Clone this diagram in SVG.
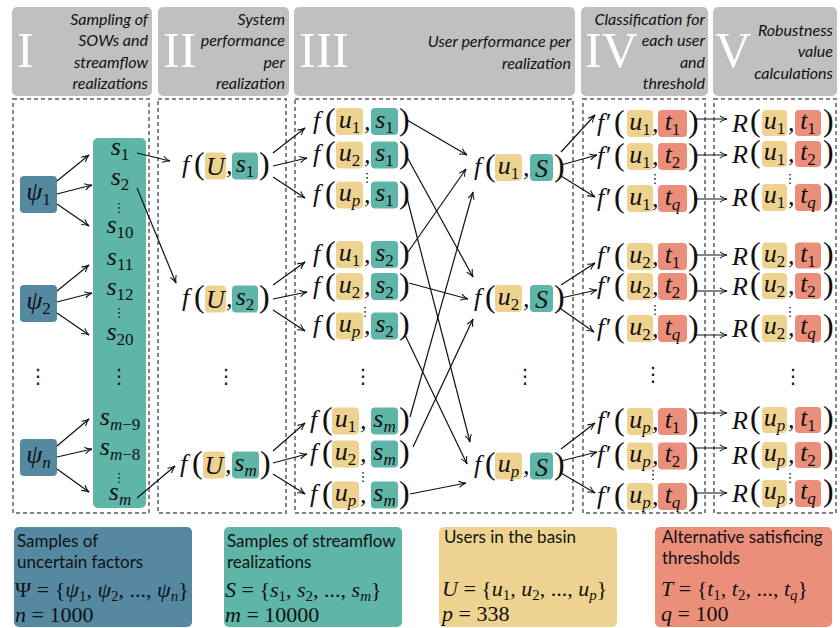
<svg xmlns="http://www.w3.org/2000/svg" width="840" height="628" viewBox="0 0 840 628">
<style>
.hdr{fill:#c0c0c0}
.num{font-family:"Liberation Serif",serif;font-size:50px;fill:#fff}
.ht{font-family:Lato,sans-serif;font-style:italic;font-size:16px;fill:#111;text-anchor:end}
.pan{fill:none;stroke:#858585;stroke-width:2;stroke-dasharray:4 3}
.m{font-family:"Liberation Serif",serif;font-style:italic;font-size:26px;fill:#111}
.mc{text-anchor:middle}
.p{font-family:"Liberation Serif",serif;font-size:32px;fill:#111}
.d{font-size:17px;font-style:normal}
.si{font-size:17px}
.Y{fill:#edd38f}.T{fill:#5fb5a8}.B{fill:#5489a1}.R{fill:#eb8f7b}
.c{fill:none;stroke:#111;stroke-width:1.2;marker-end:url(#ah)}
.vd{font-family:"DejaVu Sans",sans-serif;fill:#111;text-anchor:middle}
.vs{font-size:13px}.vb{font-size:20px}
.lg{font-family:Lato,sans-serif;font-size:17px;fill:#111}
.lm{font-family:"Liberation Serif",serif;font-size:22px;fill:#111}
.i{font-style:italic}
</style>
<defs>
<marker id="ah" viewBox="0 0 10 10" refX="9" refY="5" markerWidth="9" markerHeight="9" markerUnits="userSpaceOnUse" orient="auto">
<path d="M1,1.5 Q5,4.3 9,5 Q5,5.7 1,8.5" fill="none" stroke="#111" stroke-width="1.2"/>
</marker>
</defs>

<!-- headers -->
<g id="header-I"><rect class="hdr" x="12" y="7" width="140" height="89" rx="5"/><text class="num" x="17" y="67">I</text>
<text class="ht" x="148" y="25">Sampling of</text><text class="ht" x="148" y="46">SOWs and</text><text class="ht" x="148" y="68">streamflow</text><text class="ht" x="148" y="89">realizations</text></g>
<g id="header-II"><rect class="hdr" x="158" y="7" width="131" height="89" rx="5"/><text class="num" x="163" y="67">II</text>
<text class="ht" x="285" y="25">System</text><text class="ht" x="285" y="46">performance</text><text class="ht" x="285" y="68">per</text><text class="ht" x="285" y="89">realization</text></g>
<g id="header-III"><rect class="hdr" x="294" y="7" width="281" height="89" rx="5"/><text class="num" x="299" y="67">III</text>
<text class="ht" x="571" y="47">User performance per</text><text class="ht" x="571" y="69">realization</text></g>
<g id="header-IV"><rect class="hdr" x="581" y="7" width="127" height="89" rx="5"/><text class="num" x="585" y="67">IV</text>
<text class="ht" x="705" y="25">Classification for</text><text class="ht" x="705" y="46">each user</text><text class="ht" x="705" y="68">and</text><text class="ht" x="705" y="89">threshold</text></g>
<g id="header-V"><rect class="hdr" x="713" y="7" width="124" height="89" rx="5"/><text class="num" x="715" y="67">V</text>
<text class="ht" x="833" y="36">Robustness</text><text class="ht" x="833" y="57">value</text><text class="ht" x="833" y="79">calculations</text></g>

<!-- panels -->
<g id="panels">
<rect class="pan" x="13" y="99" width="136" height="414"/>
<rect class="pan" x="158" y="99" width="128" height="414"/>
<rect class="pan" x="295" y="99" width="278" height="414"/>
<rect class="pan" x="583" y="99" width="122" height="414"/>
<rect class="pan" x="714" y="99" width="122" height="414"/>
</g>

<!-- panel I -->
<g id="psi1"><rect class="B" x="20" y="176" width="37" height="37" rx="4"/><text class="m mc" x="38.5" y="200">ψ<tspan class="d" dy="5">1</tspan></text></g>
<g id="psi2"><rect class="B" x="20" y="285" width="37" height="37" rx="4"/><text class="m mc" x="38.5" y="309">ψ<tspan class="d" dy="5">2</tspan></text></g>
<g id="psin"><rect class="B" x="20" y="439" width="37" height="37" rx="4"/><text class="m mc" x="38.5" y="463">ψ<tspan class="si" dy="5">n</tspan></text></g>
<g id="dots-I"><text class="vd vb" x="38" y="383">⋮</text></g>
<g id="streamflows">
<rect class="T" x="93" y="138" width="53" height="370" rx="5"/>
<text class="m mc" x="120" y="155">s<tspan class="d" dy="5">1</tspan></text>
<text class="m mc" x="120" y="185">s<tspan class="d" dy="5">2</tspan></text>
<text class="vd vs" x="119" y="212">⋮</text>
<text class="m mc" x="120" y="233">s<tspan class="d" dy="5">10</tspan></text>
<text class="m mc" x="120" y="265">s<tspan class="d" dy="5">11</tspan></text>
<text class="m mc" x="120" y="295">s<tspan class="d" dy="5">12</tspan></text>
<text class="vd vs" x="119" y="317">⋮</text>
<text class="m mc" x="120" y="340">s<tspan class="d" dy="5">20</tspan></text>
<text class="vd vb" x="119" y="383">⋮</text>
<text class="m mc" x="120" y="425">s<tspan class="si" dy="5">m</tspan><tspan class="d">−9</tspan></text>
<text class="m mc" x="120" y="455">s<tspan class="si" dy="5">m</tspan><tspan class="d">−8</tspan></text>
<text class="vd vs" x="119" y="482">⋮</text>
<text class="m mc" x="120" y="500">s<tspan class="si" dy="5">m</tspan></text>
</g>

<!-- panel II -->
<g id="f_U_s1"><rect class="Y" x="205" y="152.5" width="21" height="27" rx="4"/><rect class="T" x="232" y="152.5" width="26" height="27" rx="4"/>
<text class="m" x="182" y="173">f</text><text class="p" x="194" y="174">(</text><text class="m mc" x="215.5" y="175">U</text><text class="m" x="226" y="174">,</text><text class="m mc" x="245" y="172">s<tspan class="d" dy="5">1</tspan></text><text class="p" x="259" y="174">)</text></g>
<g id="f_U_s2"><rect class="Y" x="205" y="285.5" width="21" height="27" rx="4"/><rect class="T" x="232" y="285.5" width="26" height="27" rx="4"/>
<text class="m" x="182" y="306">f</text><text class="p" x="194" y="307">(</text><text class="m mc" x="215.5" y="308">U</text><text class="m" x="226" y="307">,</text><text class="m mc" x="245" y="305">s<tspan class="d" dy="5">2</tspan></text><text class="p" x="259" y="307">)</text></g>
<g id="f_U_sm"><rect class="Y" x="203" y="451.5" width="22" height="27" rx="4"/><rect class="T" x="232" y="451.5" width="27" height="27" rx="4"/>
<text class="m" x="180" y="472">f</text><text class="p" x="192" y="473">(</text><text class="m mc" x="214" y="474">U</text><text class="m" x="225" y="473">,</text><text class="m mc" x="245.5" y="471">s<tspan class="si" dy="5">m</tspan></text><text class="p" x="260" y="473">)</text></g>
<g id="dots-II"><text class="vd vb" x="226" y="383">⋮</text></g>

<!-- panel III left -->
<g id="f_u1_s1"><rect class="Y" x="336" y="108" width="27" height="27" rx="4"/><rect class="T" x="371" y="108" width="27" height="27" rx="4"/>
<text class="m" x="313" y="128.5">f</text><text class="p" x="325" y="129.5">(</text><text class="m mc" x="349.5" y="127.5">u<tspan class="d" dy="5">1</tspan></text><text class="m" x="364" y="129.5">,</text><text class="m mc" x="384.5" y="127.5">s<tspan class="d" dy="5">1</tspan></text><text class="p" x="399" y="129.5">)</text></g>
<g id="f_u2_s1"><rect class="Y" x="336" y="141.5" width="27" height="27" rx="4"/><rect class="T" x="371" y="141.5" width="27" height="27" rx="4"/>
<text class="m" x="313" y="162">f</text><text class="p" x="325" y="163">(</text><text class="m mc" x="349.5" y="161">u<tspan class="d" dy="5">2</tspan></text><text class="m" x="364" y="163">,</text><text class="m mc" x="384.5" y="161">s<tspan class="d" dy="5">1</tspan></text><text class="p" x="399" y="163">)</text></g>
<text class="vd vs" x="367" y="182">⋮</text>
<g id="f_up_s1"><rect class="Y" x="336" y="181.5" width="27" height="27" rx="4"/><rect class="T" x="371" y="181.5" width="27" height="27" rx="4"/>
<text class="m" x="313" y="202">f</text><text class="p" x="325" y="203">(</text><text class="m mc" x="349.5" y="201">u<tspan class="si" dy="5">p</tspan></text><text class="m" x="364" y="203">,</text><text class="m mc" x="384.5" y="201">s<tspan class="d" dy="5">1</tspan></text><text class="p" x="399" y="203">)</text></g>
<g id="f_u1_s2"><rect class="Y" x="336" y="241" width="27" height="27" rx="4"/><rect class="T" x="371" y="241" width="27" height="27" rx="4"/>
<text class="m" x="313" y="261.5">f</text><text class="p" x="325" y="262.5">(</text><text class="m mc" x="349.5" y="260.5">u<tspan class="d" dy="5">1</tspan></text><text class="m" x="364" y="262.5">,</text><text class="m mc" x="384.5" y="260.5">s<tspan class="d" dy="5">2</tspan></text><text class="p" x="399" y="262.5">)</text></g>
<g id="f_u2_s2"><rect class="Y" x="336" y="273" width="27" height="27" rx="4"/><rect class="T" x="371" y="273" width="27" height="27" rx="4"/>
<text class="m" x="313" y="293.5">f</text><text class="p" x="325" y="294.5">(</text><text class="m mc" x="349.5" y="292.5">u<tspan class="d" dy="5">2</tspan></text><text class="m" x="364" y="294.5">,</text><text class="m mc" x="384.5" y="292.5">s<tspan class="d" dy="5">2</tspan></text><text class="p" x="399" y="294.5">)</text></g>
<text class="vd vs" x="365" y="316">⋮</text>
<g id="f_up_s2"><rect class="Y" x="336" y="312.5" width="27" height="27" rx="4"/><rect class="T" x="371" y="312.5" width="27" height="27" rx="4"/>
<text class="m" x="313" y="333">f</text><text class="p" x="325" y="334">(</text><text class="m mc" x="349.5" y="332">u<tspan class="si" dy="5">p</tspan></text><text class="m" x="364" y="334">,</text><text class="m mc" x="384.5" y="332">s<tspan class="d" dy="5">2</tspan></text><text class="p" x="399" y="334">)</text></g>
<text class="vd vb" x="363" y="383">⋮</text>
<g id="f_u1_sm"><rect class="Y" x="332" y="407.5" width="27" height="27" rx="4"/><rect class="T" x="371" y="407.5" width="27" height="27" rx="4"/>
<text class="m" x="310" y="428">f</text><text class="p" x="322" y="429">(</text><text class="m mc" x="345.5" y="427">u<tspan class="d" dy="5">1</tspan></text><text class="m" x="360" y="429">,</text><text class="m mc" x="384.5" y="427">s<tspan class="si" dy="5">m</tspan></text><text class="p" x="399" y="429">)</text></g>
<g id="f_u2_sm"><rect class="Y" x="332" y="440.5" width="27" height="27" rx="4"/><rect class="T" x="371" y="440.5" width="27" height="27" rx="4"/>
<text class="m" x="310" y="461">f</text><text class="p" x="322" y="462">(</text><text class="m mc" x="345.5" y="460">u<tspan class="d" dy="5">2</tspan></text><text class="m" x="360" y="462">,</text><text class="m mc" x="384.5" y="460">s<tspan class="si" dy="5">m</tspan></text><text class="p" x="399" y="462">)</text></g>
<text class="vd vs" x="363" y="481">⋮</text>
<g id="f_up_sm"><rect class="Y" x="332" y="481.5" width="27" height="27" rx="4"/><rect class="T" x="371" y="481.5" width="27" height="27" rx="4"/>
<text class="m" x="310" y="502">f</text><text class="p" x="322" y="503">(</text><text class="m mc" x="345.5" y="501">u<tspan class="si" dy="5">p</tspan></text><text class="m" x="360" y="503">,</text><text class="m mc" x="384.5" y="501">s<tspan class="si" dy="5">m</tspan></text><text class="p" x="399" y="503">)</text></g>

<!-- panel III right -->
<g id="f_u1_S"><rect class="Y" x="495" y="154" width="27" height="27" rx="4"/><rect class="T" x="530" y="154" width="23" height="27" rx="4"/>
<text class="m" x="474" y="174.5">f</text><text class="p" x="485" y="175.5">(</text><text class="m mc" x="508.5" y="173.5">u<tspan class="d" dy="5">1</tspan></text><text class="m" x="523" y="175.5">,</text><text class="m mc" x="541.5" y="177">S</text><text class="p" x="554" y="175.5">)</text></g>
<g id="f_u2_S"><rect class="Y" x="495" y="285" width="27" height="27" rx="4"/><rect class="T" x="530" y="285" width="23" height="27" rx="4"/>
<text class="m" x="474" y="305.5">f</text><text class="p" x="485" y="306.5">(</text><text class="m mc" x="508.5" y="304.5">u<tspan class="d" dy="5">2</tspan></text><text class="m" x="523" y="306.5">,</text><text class="m mc" x="541.5" y="308">S</text><text class="p" x="554" y="306.5">)</text></g>
<text class="vd vb" x="525" y="383">⋮</text>
<g id="f_up_S"><rect class="Y" x="495" y="452.5" width="27" height="27" rx="4"/><rect class="T" x="530" y="452.5" width="23" height="27" rx="4"/>
<text class="m" x="474" y="473">f</text><text class="p" x="485" y="474">(</text><text class="m mc" x="508.5" y="472">u<tspan class="si" dy="5">p</tspan></text><text class="m" x="523" y="474">,</text><text class="m mc" x="541.5" y="475.5">S</text><text class="p" x="554" y="474">)</text></g>

<!-- panel IV -->
<g id="fp_u1_t1"><rect class="Y" x="627" y="110" width="26" height="27" rx="4"/><rect class="R" x="658" y="110" width="29" height="27" rx="4"/>
<text class="m" x="597" y="130.5">f′</text><text class="p" x="614" y="131.5">(</text><text class="m mc" x="640" y="129.5">u<tspan class="d" dy="5">1</tspan></text><text class="m" x="652" y="131.5">,</text><text class="m mc" x="672.5" y="129.5">t<tspan class="d" dy="5">1</tspan></text><text class="p" x="688" y="131.5">)</text></g>
<g id="fp_u1_t2"><rect class="Y" x="627" y="143" width="26" height="27" rx="4"/><rect class="R" x="658" y="143" width="29" height="27" rx="4"/>
<text class="m" x="597" y="163.5">f′</text><text class="p" x="614" y="164.5">(</text><text class="m mc" x="640" y="162.5">u<tspan class="d" dy="5">1</tspan></text><text class="m" x="652" y="164.5">,</text><text class="m mc" x="672.5" y="162.5">t<tspan class="d" dy="5">2</tspan></text><text class="p" x="688" y="164.5">)</text></g>
<text class="vd vs" x="655" y="183">⋮</text>
<g id="fp_u1_tq"><rect class="Y" x="627" y="185" width="26" height="27" rx="4"/><rect class="R" x="658" y="185" width="29" height="27" rx="4"/>
<text class="m" x="597" y="205.5">f′</text><text class="p" x="614" y="206.5">(</text><text class="m mc" x="640" y="204.5">u<tspan class="d" dy="5">1</tspan></text><text class="m" x="652" y="206.5">,</text><text class="m mc" x="672.5" y="204.5">t<tspan class="si" dy="5">q</tspan></text><text class="p" x="688" y="206.5">)</text></g>
<g id="fp_u2_t1"><rect class="Y" x="627" y="243" width="26" height="27" rx="4"/><rect class="R" x="658" y="243" width="29" height="27" rx="4"/>
<text class="m" x="597" y="263.5">f′</text><text class="p" x="614" y="264.5">(</text><text class="m mc" x="640" y="262.5">u<tspan class="d" dy="5">2</tspan></text><text class="m" x="652" y="264.5">,</text><text class="m mc" x="672.5" y="262.5">t<tspan class="d" dy="5">1</tspan></text><text class="p" x="688" y="264.5">)</text></g>
<g id="fp_u2_t2"><rect class="Y" x="627" y="273" width="26" height="27" rx="4"/><rect class="R" x="658" y="273" width="29" height="27" rx="4"/>
<text class="m" x="597" y="293.5">f′</text><text class="p" x="614" y="294.5">(</text><text class="m mc" x="640" y="292.5">u<tspan class="d" dy="5">2</tspan></text><text class="m" x="652" y="294.5">,</text><text class="m mc" x="672.5" y="292.5">t<tspan class="d" dy="5">2</tspan></text><text class="p" x="688" y="294.5">)</text></g>
<text class="vd vs" x="655" y="314">⋮</text>
<g id="fp_u2_tq"><rect class="Y" x="627" y="315" width="26" height="27" rx="4"/><rect class="R" x="658" y="315" width="29" height="27" rx="4"/>
<text class="m" x="597" y="335.5">f′</text><text class="p" x="614" y="336.5">(</text><text class="m mc" x="640" y="334.5">u<tspan class="d" dy="5">2</tspan></text><text class="m" x="652" y="336.5">,</text><text class="m mc" x="672.5" y="334.5">t<tspan class="si" dy="5">q</tspan></text><text class="p" x="688" y="336.5">)</text></g>
<text class="vd vb" x="653" y="381">⋮</text>
<g id="fp_up_t1"><rect class="Y" x="627" y="408" width="26" height="27" rx="4"/><rect class="R" x="658" y="408" width="29" height="27" rx="4"/>
<text class="m" x="597" y="428.5">f′</text><text class="p" x="614" y="429.5">(</text><text class="m mc" x="640" y="427.5">u<tspan class="si" dy="5">p</tspan></text><text class="m" x="652" y="429.5">,</text><text class="m mc" x="672.5" y="427.5">t<tspan class="d" dy="5">1</tspan></text><text class="p" x="688" y="429.5">)</text></g>
<g id="fp_up_t2"><rect class="Y" x="627" y="442.5" width="26" height="27" rx="4"/><rect class="R" x="658" y="442.5" width="29" height="27" rx="4"/>
<text class="m" x="597" y="463">f′</text><text class="p" x="614" y="464">(</text><text class="m mc" x="640" y="462">u<tspan class="si" dy="5">p</tspan></text><text class="m" x="652" y="464">,</text><text class="m mc" x="672.5" y="462">t<tspan class="d" dy="5">2</tspan></text><text class="p" x="688" y="464">)</text></g>
<text class="vd vs" x="653" y="479">⋮</text>
<g id="fp_up_tq"><rect class="Y" x="627" y="483" width="26" height="27" rx="4"/><rect class="R" x="658" y="483" width="29" height="27" rx="4"/>
<text class="m" x="597" y="503.5">f′</text><text class="p" x="614" y="504.5">(</text><text class="m mc" x="640" y="502.5">u<tspan class="si" dy="5">p</tspan></text><text class="m" x="652" y="504.5">,</text><text class="m mc" x="672.5" y="502.5">t<tspan class="si" dy="5">q</tspan></text><text class="p" x="688" y="504.5">)</text></g>

<!-- panel V -->
<g id="R_u1_t1"><rect class="Y" x="762" y="110" width="25" height="26" rx="4"/><rect class="R" x="795" y="110" width="26" height="26" rx="4"/>
<text class="m" x="732" y="132">R</text><text class="p" x="750" y="131">(</text><text class="m mc" x="774.5" y="129">u<tspan class="d" dy="5">1</tspan></text><text class="m" x="788" y="131">,</text><text class="m mc" x="808" y="129">t<tspan class="d" dy="5">1</tspan></text><text class="p" x="823" y="131">)</text></g>
<g id="R_u1_t2"><rect class="Y" x="762" y="141" width="25" height="26" rx="4"/><rect class="R" x="795" y="141" width="26" height="26" rx="4"/>
<text class="m" x="732" y="163">R</text><text class="p" x="750" y="162">(</text><text class="m mc" x="774.5" y="160">u<tspan class="d" dy="5">1</tspan></text><text class="m" x="788" y="162">,</text><text class="m mc" x="808" y="160">t<tspan class="d" dy="5">2</tspan></text><text class="p" x="823" y="162">)</text></g>
<text class="vd vs" x="790" y="183">⋮</text>
<g id="R_u1_tq"><rect class="Y" x="762" y="184" width="25" height="27" rx="4"/><rect class="R" x="795" y="184" width="26" height="27" rx="4"/>
<text class="m" x="732" y="206">R</text><text class="p" x="750" y="205">(</text><text class="m mc" x="774.5" y="203">u<tspan class="d" dy="5">1</tspan></text><text class="m" x="788" y="205">,</text><text class="m mc" x="808" y="203">t<tspan class="si" dy="5">q</tspan></text><text class="p" x="823" y="205">)</text></g>
<g id="R_u2_t1"><rect class="Y" x="762" y="242.5" width="25" height="26" rx="4"/><rect class="R" x="795" y="242.5" width="26" height="26" rx="4"/>
<text class="m" x="732" y="264.5">R</text><text class="p" x="750" y="263.5">(</text><text class="m mc" x="774.5" y="261.5">u<tspan class="d" dy="5">2</tspan></text><text class="m" x="788" y="263.5">,</text><text class="m mc" x="808" y="261.5">t<tspan class="d" dy="5">1</tspan></text><text class="p" x="823" y="263.5">)</text></g>
<g id="R_u2_t2"><rect class="Y" x="762" y="273" width="25" height="26" rx="4"/><rect class="R" x="795" y="273" width="26" height="26" rx="4"/>
<text class="m" x="732" y="295">R</text><text class="p" x="750" y="294">(</text><text class="m mc" x="774.5" y="292">u<tspan class="d" dy="5">2</tspan></text><text class="m" x="788" y="294">,</text><text class="m mc" x="808" y="292">t<tspan class="d" dy="5">2</tspan></text><text class="p" x="823" y="294">)</text></g>
<text class="vd vs" x="790" y="316">⋮</text>
<g id="R_u2_tq"><rect class="Y" x="762" y="315" width="25" height="27" rx="4"/><rect class="R" x="795" y="315" width="26" height="27" rx="4"/>
<text class="m" x="732" y="337">R</text><text class="p" x="750" y="336">(</text><text class="m mc" x="774.5" y="334">u<tspan class="d" dy="5">2</tspan></text><text class="m" x="788" y="336">,</text><text class="m mc" x="808" y="334">t<tspan class="si" dy="5">q</tspan></text><text class="p" x="823" y="336">)</text></g>
<text class="vd vb" x="793" y="383">⋮</text>
<g id="R_up_t1"><rect class="Y" x="762" y="407" width="25" height="26" rx="4"/><rect class="R" x="795" y="407" width="26" height="26" rx="4"/>
<text class="m" x="732" y="429">R</text><text class="p" x="750" y="428">(</text><text class="m mc" x="774.5" y="426">u<tspan class="si" dy="5">p</tspan></text><text class="m" x="788" y="428">,</text><text class="m mc" x="808" y="426">t<tspan class="d" dy="5">1</tspan></text><text class="p" x="823" y="428">)</text></g>
<g id="R_up_t2"><rect class="Y" x="762" y="442" width="25" height="26" rx="4"/><rect class="R" x="795" y="442" width="26" height="26" rx="4"/>
<text class="m" x="732" y="464">R</text><text class="p" x="750" y="463">(</text><text class="m mc" x="774.5" y="461">u<tspan class="si" dy="5">p</tspan></text><text class="m" x="788" y="463">,</text><text class="m mc" x="808" y="461">t<tspan class="d" dy="5">2</tspan></text><text class="p" x="823" y="463">)</text></g>
<text class="vd vs" x="790" y="482">⋮</text>
<g id="R_up_tq"><rect class="Y" x="762" y="480" width="25" height="27" rx="4"/><rect class="R" x="795" y="480" width="26" height="27" rx="4"/>
<text class="m" x="732" y="502">R</text><text class="p" x="750" y="501">(</text><text class="m mc" x="774.5" y="499">u<tspan class="si" dy="5">p</tspan></text><text class="m" x="788" y="501">,</text><text class="m mc" x="808" y="499">t<tspan class="si" dy="5">q</tspan></text><text class="p" x="823" y="501">)</text></g>

<!-- connectors -->
<g id="connectors">
<line class="c" x1="57" y1="181" x2="89" y2="155"/><line class="c" x1="57" y1="194" x2="92" y2="185"/><line class="c" x1="57" y1="204" x2="89" y2="226"/>
<line class="c" x1="57" y1="291" x2="89" y2="265"/><line class="c" x1="57" y1="302" x2="92" y2="293"/><line class="c" x1="57" y1="313" x2="89" y2="335"/>
<line class="c" x1="57" y1="446" x2="89" y2="419"/><line class="c" x1="57" y1="457" x2="92" y2="449"/><line class="c" x1="57" y1="469" x2="89" y2="492"/>
<line class="c" x1="137" y1="153" x2="170" y2="161"/><line class="c" x1="137" y1="188" x2="176" y2="283"/><line class="c" x1="137" y1="498" x2="175" y2="466"/>
<line class="c" x1="273" y1="153" x2="305" y2="128"/><line class="c" x1="273" y1="166" x2="307" y2="158"/><line class="c" x1="273" y1="177" x2="305" y2="198"/>
<line class="c" x1="273" y1="285" x2="305" y2="262"/><line class="c" x1="273" y1="299" x2="307" y2="292"/><line class="c" x1="273" y1="310" x2="305" y2="331"/>
<line class="c" x1="273" y1="451" x2="305" y2="423"/><line class="c" x1="273" y1="463" x2="307" y2="454"/><line class="c" x1="273" y1="474" x2="305" y2="494"/>
<line class="c" x1="407" y1="120" x2="467" y2="155"/><line class="c" x1="407" y1="157" x2="473" y2="277"/><line class="c" x1="407" y1="198" x2="470" y2="442"/>
<line class="c" x1="408" y1="252" x2="466" y2="169"/><line class="c" x1="409" y1="283" x2="468" y2="299"/><line class="c" x1="405" y1="335" x2="467" y2="464"/>
<line class="c" x1="410" y1="417" x2="473" y2="192"/><line class="c" x1="413" y1="447" x2="473" y2="319"/><line class="c" x1="410" y1="494" x2="466" y2="483"/>
<line class="c" x1="561" y1="152" x2="595" y2="115"/><line class="c" x1="561" y1="165" x2="597" y2="155"/><line class="c" x1="561" y1="176" x2="595" y2="197"/>
<line class="c" x1="561" y1="285" x2="595" y2="263"/><line class="c" x1="561" y1="298" x2="597" y2="290"/><line class="c" x1="561" y1="309" x2="594" y2="332"/>
<line class="c" x1="561" y1="449" x2="595" y2="423"/><line class="c" x1="561" y1="461" x2="597" y2="452"/><line class="c" x1="561" y1="473" x2="595" y2="493"/>
<line class="c" x1="694" y1="119" x2="727" y2="119"/><line class="c" x1="694" y1="155" x2="727" y2="155"/><line class="c" x1="694" y1="199" x2="727" y2="199"/>
<line class="c" x1="694" y1="255" x2="727" y2="255"/><line class="c" x1="694" y1="291" x2="727" y2="291"/><line class="c" x1="694" y1="335" x2="727" y2="335"/>
<line class="c" x1="694" y1="413" x2="727" y2="413"/><line class="c" x1="694" y1="448" x2="727" y2="448"/><line class="c" x1="694" y1="493" x2="727" y2="493"/>
</g>

<!-- legend -->
<g id="legend-psi"><rect class="B" x="14" y="527" width="178" height="100" rx="5"/>
<text class="lg" x="17" y="547">Samples of</text><text class="lg" x="17" y="568">uncertain factors</text>
<text class="lm" x="15" y="597"><tspan>Ψ = {</tspan><tspan class="i">ψ</tspan><tspan font-size="15" dy="4">1</tspan><tspan dy="-4">, </tspan><tspan class="i">ψ</tspan><tspan font-size="15" dy="4">2</tspan><tspan dy="-4">, ..., </tspan><tspan class="i">ψ</tspan><tspan class="i" font-size="15" dy="4">n</tspan><tspan dy="-4">}</tspan></text>
<text class="lm" x="15" y="622"><tspan class="i">n</tspan> = 1000</text></g>
<g id="legend-s"><rect class="T" x="224" y="527" width="178" height="100" rx="5"/>
<text class="lg" x="227" y="547">Samples of streamflow</text><text class="lg" x="227" y="568">realizations</text>
<text class="lm" x="225" y="597"><tspan class="i">S</tspan> = {<tspan class="i">s</tspan><tspan font-size="15" dy="4">1</tspan><tspan dy="-4">, </tspan><tspan class="i">s</tspan><tspan font-size="15" dy="4">2</tspan><tspan dy="-4">, ..., </tspan><tspan class="i">s</tspan><tspan class="i" font-size="15" dy="4">m</tspan><tspan dy="-4">}</tspan></text>
<text class="lm" x="225" y="622"><tspan class="i">m</tspan> = 10000</text></g>
<g id="legend-u"><rect class="Y" x="439" y="527" width="178" height="100" rx="5"/>
<text class="lg" x="444" y="543">Users in the basin</text>
<text class="lm" x="442" y="596"><tspan class="i">U</tspan> = {<tspan class="i">u</tspan><tspan font-size="15" dy="4">1</tspan><tspan dy="-4">, </tspan><tspan class="i">u</tspan><tspan font-size="15" dy="4">2</tspan><tspan dy="-4">, ..., </tspan><tspan class="i">u</tspan><tspan class="i" font-size="15" dy="4">p</tspan><tspan dy="-4">}</tspan></text>
<text class="lm" x="442" y="621"><tspan class="i">p</tspan> = 338</text></g>
<g id="legend-t"><rect class="R" x="655" y="527" width="177" height="100" rx="5"/>
<text class="lg" x="662" y="543">Alternative satisficing</text><text class="lg" x="662" y="564">thresholds</text>
<text class="lm" x="661" y="596"><tspan class="i">T</tspan> = {<tspan class="i">t</tspan><tspan font-size="15" dy="4">1</tspan><tspan dy="-4">, </tspan><tspan class="i">t</tspan><tspan font-size="15" dy="4">2</tspan><tspan dy="-4">, ..., </tspan><tspan class="i">t</tspan><tspan class="i" font-size="15" dy="4">q</tspan><tspan dy="-4">}</tspan></text>
<text class="lm" x="661" y="621"><tspan class="i">q</tspan> = 100</text></g>
</svg>
